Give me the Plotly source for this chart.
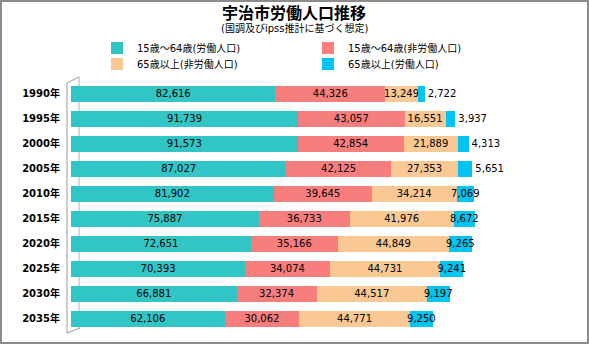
import plotly.graph_objects as go

years = ["1990年", "1995年", "2000年", "2005年", "2010年", "2015年", "2020年", "2025年", "2030年", "2035年"]
labor_15_64 = [82616, 91739, 91573, 87027, 81902, 75887, 72651, 70393, 66881, 62106]
nonlabor_15_64 = [44326, 43057, 42854, 42125, 39645, 36733, 35166, 34074, 32374, 30062]
nonlabor_65 = [13249, 16551, 21889, 27353, 34214, 41976, 44849, 44731, 44517, 44771]
labor_65 = [2722, 3937, 4313, 5651, 7069, 8672, 9265, 9241, 9197, 9250]

names = ["15歳～64歳(労働人口)", "15歳～64歳(非労働人口)", "65歳以上(非労働人口)", "65歳以上(労働人口)"]
colors = ["#31C5C5", "#F87E7E", "#F9C893", "#00C4F2"]

W, H = 589, 344
L, R, T, B = 71, 23, 81, 13
PW, PH = W - L - R, H - T - B

def px(x):
    return (x - L) / PW

def py(y):
    return 1 - (y - T) / PH

num_font = dict(family="DejaVu Sans, Noto Sans CJK JP", size=10, color="#000000")
jp_font = "DejaVu Sans, Noto Sans CJK JP"

fig = go.Figure()
series = [labor_15_64, nonlabor_15_64, nonlabor_65, labor_65]
legends = ["legend", "legend", "legend2", "legend2"]
for i, (vals, name, col) in enumerate(zip(series, names, colors)):
    if i == 3:
        tpos = ["outside"] * 4 + ["inside"] * (len(vals) - 4)
    else:
        tpos = "inside"
    fig.add_trace(go.Bar(
        y=years, x=vals, orientation="h", name=name,
        marker=dict(color=col, line=dict(width=0)),
        text=vals, texttemplate="%{x:,}", textposition=tpos,
        insidetextanchor="middle", constraintext="none", textangle=0,
        textfont=num_font, outsidetextfont=num_font, insidetextfont=num_font,
        cliponaxis=False, legend=legends[i],
    ))

shapes = [
    # outer border
    dict(type="rect", xref="paper", yref="paper", x0=px(1), x1=px(588), y0=py(1), y1=py(343),
         line=dict(color="#8C8C8C", width=2), layer="below"),
    # 3D wall lines
    dict(type="line", xref="paper", yref="paper", x0=px(67), x1=px(67), y0=py(83), y1=py(333),
         line=dict(color="#9A9A9A", width=1), layer="below"),
    dict(type="line", xref="paper", yref="paper", x0=px(67), x1=px(79), y0=py(83), y1=py(77),
         line=dict(color="#9A9A9A", width=1), layer="below"),
    dict(type="line", xref="paper", yref="paper", x0=px(79), x1=px(79), y0=py(77), y1=py(328),
         line=dict(color="#B0B0B0", width=1), layer="below"),
    dict(type="line", xref="paper", yref="paper", x0=px(67), x1=px(80), y0=py(333), y1=py(328),
         line=dict(color="#9A9A9A", width=1), layer="below"),
]

annotations = [
    dict(text="<b>宇治市労働人口推移</b>", xref="paper", yref="paper", x=px(294), y=py(12),
         xanchor="center", yanchor="middle", showarrow=False,
         font=dict(family="Noto Sans CJK JP", size=16, color="#000000")),
    dict(text="(国調及びipss推計に基づく想定)", xref="paper", yref="paper", x=px(294), y=py(28),
         xanchor="center", yanchor="middle", showarrow=False,
         font=dict(family=jp_font, size=10, color="#000000")),
]

legend_common = dict(orientation="h", xanchor="left", yanchor="middle",
                     font=dict(family=jp_font, size=10, color="#000000"),
                     bgcolor="rgba(0,0,0,0)", entrywidth=166, traceorder="normal",
                     itemclick=False)

fig.update_layout(
    width=W, height=H,
    margin=dict(l=L, r=R, t=T, b=B, pad=0),
    paper_bgcolor="#FFFFFF", plot_bgcolor="#FFFFFF",
    barmode="stack", bargap=0.36,
    showlegend=True,
    legend=dict(x=px(97), y=py(48), **legend_common),
    legend2=dict(x=px(97), y=py(64), **legend_common),
    xaxis=dict(visible=False, range=[0, 200000], fixedrange=True),
    yaxis=dict(autorange="reversed", showgrid=False, zeroline=False, showline=False,
               ticks="outside", ticklen=8, tickcolor="rgba(0,0,0,0)",
               tickfont=dict(family=jp_font, size=10, color="#000000", weight="bold")),
    shapes=shapes, annotations=annotations,
    font=dict(family=jp_font),
)

fig.write_html("out.html")
